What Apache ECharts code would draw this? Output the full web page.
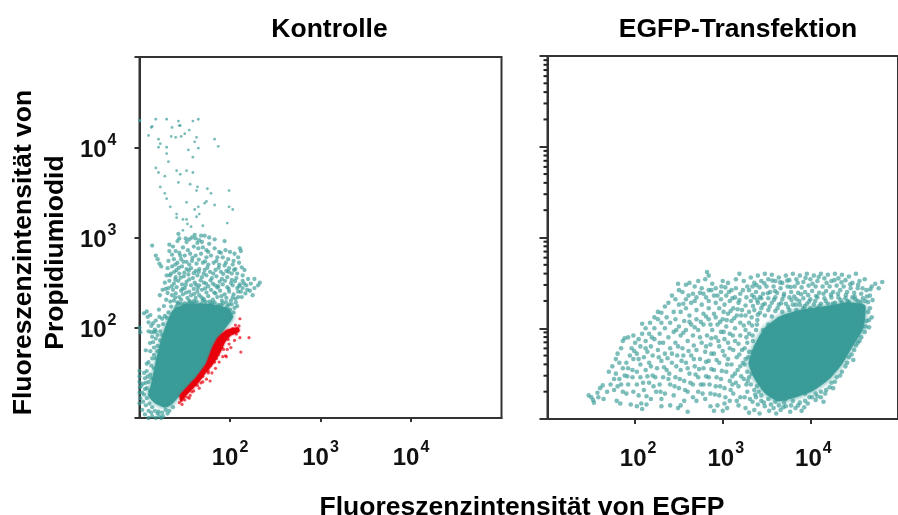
<!DOCTYPE html>
<html><head><meta charset="utf-8">
<style>html,body{margin:0;padding:0;background:#fff}#c{width:898px;height:515px}</style>
<script src="https://cdn.jsdelivr.net/npm/echarts@6/dist/echarts.min.js"></script>
</head><body><div id="c"></div>
<script>
const panelTitles = ['Kontrolle', 'EGFP-Transfektion'];
const xAxisTitle = 'Fluoreszenzintensität von EGFP';
const yAxisTitle = 'Fluoreszenzintensität von\nPropidiumiodid';
const xTickExponents = [2, 3, 4];
const yTickExponents = [2, 3, 4];
const minorTickValues = [20,30,40,50,60,70,80,90,200,300,400,500,600,700,800,900,2000,3000,4000,5000,6000,7000,8000,9000,20000,30000,40000,50000,60000,70000,80000,90000];

const controlCore = [[1.28,1.12],[1.17,1.17],[1.10,1.25],[1.13,1.36],[1.18,1.60],[1.23,1.82],[1.30,2.04],[1.37,2.19],[1.52,2.26],[1.77,2.26],[1.98,2.21],[2.03,2.12],[1.94,1.99],[1.87,1.89],[1.81,1.76],[1.74,1.60],[1.63,1.45],[1.52,1.34],[1.44,1.25],[1.35,1.15]];
const controlRedBand = [[1.45,1.25],[1.63,1.45],[1.74,1.60],[1.81,1.78],[1.87,1.89],[1.96,1.97],[2.09,2.0],[2.10,1.96],[2.01,1.92],[1.94,1.84],[1.89,1.73],[1.81,1.60],[1.72,1.49],[1.63,1.37],[1.52,1.26],[1.46,1.18]];
const controlRedPoints = [[2.21,1.89],[2.12,1.73],[1.95,1.69],[2.11,1.89],[1.78,1.41],[1.76,1.52],[2.11,2.10],[1.96,1.68],[2.01,1.78],[2.05,1.86],[1.99,1.82],[1.97,1.76],[1.92,1.68],[1.88,1.62],[1.84,1.55],[1.80,1.50],[1.74,1.43],[1.70,1.40],[1.66,1.33],[1.60,1.30],[1.56,1.25],[1.50,1.20],[1.47,1.15],[1.44,1.17],[1.49,1.24],[1.55,1.22],[2.03,1.94],[2.07,1.93],[2.10,2.02],[2.06,2.03],[2.03,1.99],[1.93,1.87],[1.91,1.78],[1.85,1.66],[1.78,1.58],[1.70,1.46],[1.83,1.62],[1.87,1.70],[1.93,1.76],[1.98,1.87],[1.76,1.50],[1.68,1.39],[1.58,1.29],[2.00,1.97],[2.08,1.97],[1.90,1.83],[1.84,1.72],[1.64,1.36],[1.53,1.23]];
const controlSparse = [[1.0,4.30],[1.005,4.29],[1.18,4.31],[1.30,4.31],[1.43,4.29],[1.44,4.24],[1.45,4.24],[1.59,4.29],[1.65,4.31],[1.13,4.22],[1.14,4.23],[1.36,4.22],[1.55,4.19],[1.46,4.12],[1.50,4.15],[1.35,4.12],[1.40,4.11],[1.10,4.13],[1.21,4.09],[1.23,4.04],[1.21,4.0],[1.30,4.0],[1.63,4.11],[1.61,4.06],[1.83,4.09],[1.87,4.01],[1.65,3.99],[1.54,3.97],[1.30,3.93],[1.59,3.89],[1.32,3.84],[1.18,3.77],[1.21,3.72],[1.28,3.68],[1.41,3.74],[1.45,3.70],[1.52,3.74],[1.59,3.72],[1.43,3.61],[1.23,3.56],[1.56,3.59],[1.64,3.56],[1.63,3.52],[1.75,3.54],[1.79,3.49],[1.99,3.52],[1.28,3.49],[1.30,3.43],[1.52,3.39],[1.74,3.40],[1.72,3.38],[1.83,3.36],[1.99,3.34],[2.03,3.31],[1.34,3.34],[1.65,3.34],[1.61,3.31],[1.66,3.26],[1.63,3.23],[1.41,3.26],[1.41,3.22],[1.48,3.20],[1.52,3.20],[1.53,3.15],[1.57,3.12],[1.97,3.16],[1.70,3.13],[1.48,3.08],[1.43,3.04],[1.61,3.03],[1.68,3.02],[1.77,3.00],[1.51,2.99],
[1.14,2.91],[1.18,2.80],[1.20,2.76],[1.22,2.71],[1.24,2.68],[1.33,2.92],[1.37,2.90],[1.42,2.96],[1.44,2.99],[1.40,2.85],[1.33,2.85],[1.36,2.81],[1.44,2.83],[1.48,2.89],[1.52,2.95],[1.55,2.98],[1.58,3.00],[1.62,2.99],[1.66,2.97],[1.69,2.95],[1.72,3.02],[1.60,2.90],[1.65,2.88],[1.70,2.89],[1.77,2.93],[1.83,2.98],[1.94,2.96],[2.11,2.88],[2.12,2.85],[1.83,2.88],[1.88,2.84],[1.95,2.86],[2.00,2.84],[2.05,2.82],[2.09,2.78],[1.50,2.80],[1.56,2.82],[1.62,2.80],[1.68,2.82],[1.74,2.78],[1.79,2.80],[1.86,2.78],[1.92,2.78],[1.98,2.76],[2.04,2.74],[2.10,2.72],[2.13,2.67],[1.32,2.74],[1.38,2.76],[1.42,2.72],[1.46,2.76],[1.52,2.73],[1.58,2.74],[1.63,2.71],[1.70,2.72],[1.76,2.70],[1.82,2.72],[1.88,2.70],[1.94,2.69],[1.99,2.66],[2.06,2.65],[2.16,2.64],[1.31,2.66],[1.36,2.68],[1.41,2.64],[1.47,2.68],[1.52,2.65],[1.57,2.66],[1.62,2.63],[1.66,2.65],[1.72,2.64],[1.78,2.62],[1.84,2.64],[1.90,2.62],[1.96,2.63],[2.02,2.60],[2.08,2.60],[2.14,2.58],
[1.30,2.58],[1.35,2.60],[1.40,2.56],[1.44,2.60],[1.49,2.57],[1.54,2.59],[1.59,2.55],[1.64,2.58],[1.69,2.56],[1.74,2.58],[1.80,2.55],[1.85,2.57],[1.91,2.54],[1.97,2.56],[2.02,2.53],[2.07,2.55],[2.14,2.52],[2.20,2.54],[2.27,2.54],[2.33,2.50],[2.23,2.49],[2.18,2.47],[2.25,2.36],[2.27,2.44],[2.22,2.41],[2.14,2.44],[2.17,2.38],[1.28,2.50],[1.33,2.52],[1.38,2.49],[1.43,2.52],[1.47,2.48],[1.52,2.51],[1.57,2.47],[1.61,2.50],[1.66,2.47],[1.71,2.50],[1.76,2.46],[1.81,2.49],[1.87,2.46],[1.92,2.48],[1.97,2.45],[2.03,2.47],[2.08,2.44],[2.11,2.48],[1.32,2.44],[1.37,2.42],[1.41,2.45],[1.46,2.41],[1.50,2.44],[1.55,2.40],[1.60,2.43],[1.64,2.40],[1.69,2.42],[1.74,2.39],[1.79,2.42],[1.84,2.38],[1.89,2.41],[1.94,2.37],[1.99,2.40],[2.04,2.37],[2.09,2.40],[2.13,2.34],[1.36,2.36],[1.40,2.38],[1.44,2.34],[1.48,2.37],[1.53,2.33],[1.57,2.36],[1.62,2.33],[1.66,2.36],[1.71,2.32],[1.76,2.35],[1.81,2.31],[1.86,2.34],[1.91,2.30],[1.96,2.33],[2.01,2.30],[2.06,2.32],[1.38,2.30],[1.42,2.28],[1.46,2.31],[1.50,2.27],[1.55,2.30],[1.59,2.27],[1.63,2.29],[1.68,2.26],[1.73,2.29],[1.78,2.25],[1.83,2.28],[1.87,2.25],[1.92,2.27],[1.97,2.24],[2.02,2.26],[2.05,2.22],[1.41,2.24],[1.45,2.22],[1.49,2.24],[1.54,2.21],[1.58,2.24],[1.62,2.22],[1.67,2.23],[1.72,2.22],[1.76,2.24],[1.82,2.21],[1.89,2.22],[1.94,2.21],[2.00,2.20],[2.04,2.17],
[1.05,2.16],[1.08,2.18],[1.12,2.14],[1.10,2.06],[1.13,2.02],[1.00,2.00],[1.01,1.95],[1.10,1.96],[1.15,2.05],[1.18,2.08],[1.22,2.12],[1.28,2.13],[1.32,2.17],[1.17,1.98],[1.20,1.92],[1.23,1.96],[1.26,2.04],[1.18,1.88],[1.14,1.90],[1.20,1.80],[1.16,1.78],[1.23,1.86],[1.12,1.74],[1.16,1.70],[1.18,1.66],[1.10,1.62],[1.13,1.58],[1.16,1.55],[1.08,1.52],[1.12,1.48],[1.06,1.44],[1.10,1.40],[1.04,1.38],[1.08,1.33],[1.02,1.36],[1.0,1.52],[1.0,1.46],[1.0,1.40],[1.005,1.34],[1.0,1.28],[1.01,1.22],[1.0,1.16],[1.05,1.26],[1.08,1.22],[1.04,1.18],[1.07,1.14],[1.11,1.16],[1.14,1.12],[1.10,1.08],[1.17,1.08],[1.21,1.07],[1.25,1.06],[1.29,1.09],[1.33,1.08],[1.14,1.02],[1.18,1.0],[1.22,1.02],[1.24,1.0],[1.06,1.04],[1.10,1.0],[1.37,1.12],[1.31,1.05],
[1.34,2.29],[1.395,2.335],[1.43,2.27],[1.475,2.43],[1.515,2.39],[1.56,2.285],[1.605,2.375],[1.645,2.44],[1.685,2.335],[1.725,2.435],[1.775,2.29],[1.825,2.39],[1.86,2.445],[1.905,2.35],[1.955,2.285],[1.985,2.43],[2.03,2.335],[2.065,2.28],[1.31,2.385],[1.355,2.46],[1.395,2.53],[1.455,2.555],[1.51,2.475],[1.55,2.535],[1.625,2.475],[1.675,2.525],[1.735,2.49],[1.785,2.525],[1.835,2.47],[1.885,2.51],[1.945,2.52],[2.01,2.495],[2.055,2.515],[2.10,2.46],[2.155,2.49],[1.29,2.43],[1.335,2.58],[1.385,2.62],[1.435,2.665],[1.495,2.61],[1.545,2.635],[1.60,2.605],[1.655,2.62],[1.71,2.60],[1.75,2.665],[1.815,2.60],[1.875,2.665],[1.925,2.595],[1.985,2.62],[2.045,2.64],[1.295,2.31],[1.255,2.42],[1.225,2.36],[1.27,2.24],[1.215,2.20],[1.35,2.235],[1.40,2.21],[1.46,2.265],[1.53,2.26],[1.60,2.295],[1.70,2.30],[1.80,2.27],[1.90,2.25],[1.99,2.26],[2.08,2.24],[2.09,2.34],[2.12,2.40],[2.19,2.42],[2.31,2.47],[1.395,2.70],[1.485,2.73],[1.55,2.70],[1.655,2.755],[1.725,2.735],[1.85,2.74],[1.955,2.72],[2.03,2.70],[1.45,2.80],[1.585,2.775],[1.76,2.84],[1.90,2.83],[1.535,2.86],[1.64,2.94],[1.74,2.86],
[1.07,1.75],[1.115,1.83],[1.08,1.60],[1.14,1.66],[1.05,1.50],[1.15,1.84],[1.09,1.46],[1.13,1.44],[1.06,1.32],[1.115,1.30],[1.03,1.28],[1.07,1.39],[1.16,1.95],[1.21,2.02],[1.25,2.10],[1.195,1.74],[1.13,1.95],[1.18,1.96],[1.09,2.12],[1.30,2.11],[1.25,1.92],[1.03,1.09],[1.13,1.06],[1.20,1.05],[1.26,1.02]];

const transfectCore = [[3.30,1.61],[3.36,1.80],[3.48,2.00],[3.66,2.13],[3.90,2.20],[4.20,2.24],[4.42,2.28],[4.62,2.25],[4.60,2.00],[4.47,1.79],[4.36,1.61],[4.21,1.44],[4.02,1.31],[3.82,1.24],[3.63,1.20],[3.49,1.28],[3.37,1.44]];
const transfectSparse = [[1.47,1.26],[1.50,1.24],[1.52,1.21],[1.53,1.18],[1.57,1.29],[1.60,1.34],[1.63,1.37],[1.58,1.24],[1.64,1.22],[1.79,1.20],[1.83,1.17],[1.95,1.16],[2.02,1.14],[2.07,1.17],[2.13,1.25],[2.18,1.22],[2.08,1.11],[2.30,1.14],[2.40,1.15],[2.49,1.12],[2.52,1.15],[2.60,1.08],[2.86,1.14],[2.90,1.09],[2.94,1.15],[3.00,1.09],[3.02,1.17],[3.05,1.12],[3.18,1.15],[3.26,1.12],[3.30,1.07],[3.36,1.10],[3.42,1.06],[3.48,1.14],[3.53,1.09],[3.58,1.12],[3.61,1.06],[3.66,1.10],[3.72,1.14],[3.77,1.08],[3.83,1.12],[3.90,1.09],[3.93,1.13],[3.97,1.17],[4.15,1.19],[4.12,1.24],[4.06,1.21],[3.99,1.24],[3.88,1.18],[3.80,1.20],[3.72,1.22],[3.60,1.19],[3.52,1.22],[3.44,1.20],[3.38,1.24],[3.34,1.19],
[1.68,1.30],[1.72,1.38],[1.76,1.44],[1.70,1.52],[1.74,1.58],[1.78,1.66],[1.80,1.72],[1.84,1.78],[1.86,1.86],[1.88,1.89],[1.92,1.90],[1.98,1.92],[1.82,1.62],[1.86,1.56],[1.90,1.62],[1.94,1.70],[1.96,1.78],[2.00,1.84],[2.04,1.88],[2.08,1.94],[2.12,2.00],[2.08,2.05],[2.17,2.06],[2.22,2.12],[2.26,2.10],[2.30,2.17],[2.34,2.24],[2.26,2.18],[2.38,2.28],[2.42,2.36],[2.46,2.32],[2.50,2.42],[2.49,2.49],[2.58,2.48],[2.54,2.40],[2.62,2.50],[2.68,2.46],[2.72,2.52],[2.82,2.62],[2.84,2.58],[2.80,2.54],[2.88,2.49],[2.76,2.44],[2.66,2.38],[2.58,2.32],[2.50,2.26],[2.44,2.18],[2.36,2.12],[2.30,2.06],[2.22,2.00],[2.16,1.94],[2.12,1.86],[2.06,1.80],[2.02,1.72],[1.98,1.66],[1.92,1.56],[1.88,1.48],[1.82,1.44],[1.80,1.36],[1.86,1.30],[1.92,1.38],[1.97,1.46],[2.02,1.52],[2.06,1.60],[2.10,1.68],[2.14,1.74],[2.18,1.80],[2.22,1.88],[2.28,1.94],[2.34,2.00],[2.40,2.06],[2.46,2.10],[2.52,2.18],[2.58,2.22],[2.64,2.28],[2.70,2.34],[2.78,2.38],[2.84,2.42],[2.92,2.44],[2.98,2.40],[2.90,2.36],[2.84,2.30],[2.76,2.26],[2.70,2.20],[2.62,2.14],[2.56,2.08],[2.50,2.02],[2.44,1.96],[2.38,1.90],[2.32,1.84],[2.26,1.76],[2.20,1.70],[2.16,1.62],[2.12,1.54],[2.06,1.46],[2.02,1.38],[1.98,1.30],[2.04,1.26],[2.10,1.32],[2.16,1.40],[2.20,1.48],[2.25,1.56],[2.30,1.64],[2.34,1.72],[2.40,1.78],[2.46,1.84],[2.52,1.92],[2.58,1.98],[2.64,2.04],[2.70,2.10],[2.78,2.16],[2.84,2.22],[2.92,2.28],[2.98,2.32],[3.04,2.36],[3.10,2.42],[3.06,2.50],[3.00,2.52],[3.15,2.54],[3.19,2.60],[3.24,2.52],[3.28,2.46],
[2.24,1.30],[2.28,1.38],[2.32,1.46],[2.36,1.54],[2.42,1.62],[2.48,1.70],[2.54,1.78],[2.60,1.86],[2.66,1.92],[2.72,1.98],[2.78,2.04],[2.84,2.10],[2.90,2.16],[2.96,2.22],[3.02,2.26],[3.08,2.30],[3.14,2.34],[3.20,2.38],[3.18,2.28],[3.12,2.22],[3.06,2.16],[3.00,2.10],[2.94,2.04],[2.88,1.98],[2.82,1.92],[2.76,1.84],[2.70,1.76],[2.64,1.70],[2.58,1.62],[2.52,1.54],[2.46,1.46],[2.40,1.38],[2.34,1.28],[2.30,1.22],[2.44,1.26],[2.50,1.34],[2.56,1.42],[2.62,1.50],[2.68,1.58],[2.74,1.66],[2.80,1.74],[2.86,1.82],[2.92,1.90],[2.98,1.96],[3.04,2.02],[3.10,2.08],[3.16,2.14],[3.22,2.20],[3.26,2.14],[3.20,2.06],[3.14,2.00],[3.08,1.94],[3.02,1.88],[2.96,1.80],[2.90,1.72],[2.84,1.64],[2.78,1.56],[2.72,1.46],[2.66,1.38],[2.60,1.30],[2.56,1.20],[2.66,1.24],[2.72,1.30],[2.78,1.38],[2.84,1.46],[2.90,1.54],[2.96,1.62],[3.02,1.70],[3.08,1.78],[3.14,1.86],[3.20,1.92],[3.26,1.98],[3.30,2.06],[3.34,1.92],[3.28,1.84],[3.22,1.76],[3.16,1.68],[3.10,1.60],[3.04,1.52],[2.98,1.44],[2.92,1.36],[2.86,1.28],[2.80,1.22],[2.96,1.26],[3.02,1.34],[3.08,1.42],[3.14,1.50],[3.20,1.58],[3.26,1.66],[3.30,1.74],[3.24,1.44],[3.18,1.36],[3.12,1.28],[3.08,1.20],[3.20,1.24],[3.28,1.30],[3.32,1.38],[3.36,1.32],[3.28,1.52],[3.44,1.90],[3.38,1.98],[3.46,1.98],[3.52,2.04],
[3.32,2.56],[3.36,2.50],[3.40,2.58],[3.44,2.52],[3.48,2.60],[3.52,2.54],[3.56,2.59],[3.60,2.52],[3.64,2.56],[3.68,2.50],[3.72,2.58],[3.76,2.53],[3.80,2.60],[3.84,2.54],[3.88,2.58],[3.92,2.51],[3.96,2.60],[4.00,2.54],[4.04,2.58],[4.08,2.52],[4.12,2.60],[4.16,2.55],[4.20,2.59],[4.24,2.52],[4.28,2.60],[4.32,2.55],[4.36,2.59],[4.40,2.53],[4.44,2.57],[4.52,2.60],[4.48,2.50],[4.56,2.52],[4.62,2.54],[4.70,2.46],[4.74,2.49],[4.82,2.51],[4.78,2.44],[3.30,2.42],[3.34,2.46],[3.38,2.40],[3.42,2.45],[3.46,2.38],[3.50,2.46],[3.54,2.40],[3.58,2.46],[3.62,2.39],[3.66,2.44],[3.70,2.38],[3.74,2.46],[3.78,2.40],[3.82,2.46],[3.86,2.39],[3.90,2.45],[3.94,2.40],[3.98,2.47],[4.02,2.41],[4.06,2.46],[4.10,2.39],[4.14,2.46],[4.18,2.41],[4.22,2.46],[4.26,2.40],[4.30,2.47],[4.34,2.42],[4.38,2.46],[4.42,2.40],[4.46,2.44],[4.50,2.39],[4.54,2.44],[4.58,2.38],[4.64,2.42],[4.68,2.36],[4.71,2.31],[4.66,2.29],[4.60,2.33],[4.54,2.30],[3.32,2.30],[3.36,2.34],[3.40,2.28],[3.44,2.33],[3.48,2.27],[3.52,2.33],[3.56,2.28],[3.60,2.34],[3.64,2.26],[3.68,2.32],[3.72,2.27],[3.76,2.34],[3.80,2.26],[3.84,2.32],[3.88,2.26],[3.92,2.33],[3.96,2.27],[4.00,2.32],[4.04,2.26],[4.08,2.34],[4.12,2.27],[4.16,2.33],[4.20,2.27],[4.24,2.34],[4.28,2.28],[4.32,2.34],[4.36,2.28],[4.40,2.33],[4.44,2.29],[4.48,2.34],[4.36,2.20],[3.36,2.20],[3.40,2.15],[3.44,2.22],[3.48,2.14],[3.52,2.20],[3.56,2.13],[3.60,2.19],[3.64,2.10],[3.68,2.18],[3.72,2.09],[3.76,2.20],[3.80,2.12],[3.84,2.20],[3.88,2.15],[3.92,2.22],[3.96,2.16],[4.00,2.22],[4.04,2.16],[4.08,2.22],[4.12,2.17],[4.16,2.22],[4.20,2.18],[4.24,2.23],[4.28,2.18],[4.66,2.18],[4.70,2.12],[4.64,2.08],[4.67,2.01],[4.62,1.96],[4.58,1.90],[4.54,1.84],[4.50,1.76],[4.49,1.65],[4.44,1.68],[4.40,1.58],[4.36,1.52],[4.30,1.46],[4.24,1.40],[4.26,1.34],[4.18,1.32],[4.12,1.30],[4.06,1.28],[3.34,1.74],[3.38,1.66],[3.34,1.58],[3.30,1.46],[3.42,1.40],[3.44,1.26],[3.56,1.26],[3.70,1.18],[3.94,1.28],
[3.335,2.365],[3.385,2.475],[3.425,2.345],[3.475,2.495],[3.515,2.385],[3.565,2.525],[3.595,2.41],[3.655,2.505],[3.695,2.355],[3.735,2.525],[3.775,2.455],[3.815,2.35],[3.855,2.50],[3.895,2.375],[3.945,2.555],[3.975,2.365],[4.025,2.49],[4.065,2.355],[4.095,2.565],[4.15,2.38],[4.185,2.50],[4.235,2.37],[4.275,2.53],[4.315,2.38],[4.355,2.505],[4.405,2.365],[4.455,2.485],[4.505,2.35],[4.545,2.48],[4.595,2.44],[4.645,2.35],[4.685,2.43],[3.345,2.245],[3.395,2.31],[3.455,2.255],[3.535,2.24],[3.585,2.315],[3.625,2.22],[3.665,2.275],[3.745,2.235],[3.785,2.31],[3.835,2.26],[3.875,2.30],[3.935,2.245],[3.985,2.295],[4.055,2.30],[4.105,2.245],[4.175,2.30],[4.255,2.27],[4.345,2.31],[4.425,2.30],[4.515,2.32],[4.575,2.29],[4.625,2.30],[3.33,2.12],[3.30,2.18],[3.395,2.09],[3.425,2.17],[3.335,2.03],[3.39,2.04],[3.30,1.94],[3.345,1.86],[3.29,1.68],[3.25,1.60],[3.285,1.42],[3.33,1.50],[3.39,1.36],[3.41,1.30],[3.46,1.34],[3.37,1.27],[3.31,1.22],[3.40,1.16],[3.47,1.18],[3.55,1.16],[3.64,1.15],[3.69,1.13],[3.78,1.15],[3.86,1.15],[3.94,1.20],[4.02,1.24],[4.08,1.25],[4.17,1.28],[4.22,1.35],[4.28,1.41],[4.34,1.48],[4.42,1.62],[4.47,1.71],[4.52,1.81],[4.56,1.86],[4.63,2.02],[4.67,2.09],[4.68,2.22],
[3.27,2.34],[3.23,2.42],[3.19,2.31],[3.15,2.44],[3.11,2.33],[3.07,2.40],[3.03,2.45],[2.985,2.46],[2.94,2.36],[2.87,2.42],[2.81,2.34],[2.74,2.39],[2.68,2.30],[2.61,2.36],[2.55,2.27],[3.26,2.25],[3.21,2.14],[3.17,2.21],[3.13,2.11],[3.09,2.19],[3.045,2.09],[3.01,2.18],[2.97,2.07],[2.92,2.12],[2.86,2.04],[2.81,2.13],[2.75,2.07],[2.68,2.01],[2.62,2.07],[2.55,1.95],[2.47,1.98],[3.27,1.90],[3.24,2.03],[3.18,1.83],[3.115,1.92],[3.06,1.84],[3.01,1.96],[2.95,1.86],[2.87,1.89],[2.81,1.80],[2.74,1.90],[2.67,1.81],[2.61,1.75],[2.55,1.70],[2.49,1.80],[2.42,1.72],[3.25,1.78],[3.19,1.71],[3.12,1.76],[3.06,1.66],[3.00,1.75],[2.93,1.65],[2.87,1.72],[2.81,1.63],[2.73,1.55],[2.67,1.66],[2.60,1.56],[2.53,1.64],[2.47,1.58],[2.39,1.50],[3.23,1.62],[3.17,1.54],[3.11,1.47],[3.05,1.60],[2.99,1.53],[2.93,1.46],[2.87,1.55],[2.81,1.47],[2.75,1.38],[2.69,1.49],[2.63,1.40],[2.57,1.32],[2.51,1.44],[2.45,1.36],[3.27,1.38],[3.21,1.47],[3.15,1.40],[3.09,1.32],[3.03,1.24],[2.97,1.36],[2.91,1.27],[2.85,1.38],[2.77,1.28],[2.70,1.20],[3.25,1.24],[3.16,1.20],[3.11,1.38],[2.23,1.46],[2.18,1.58],[2.14,1.47],[2.09,1.40],[2.04,1.66],[1.99,1.75],[2.27,1.68],[2.33,1.57],[2.37,1.67],[2.28,1.84],[2.19,1.90],[2.12,1.78],[1.97,1.54],[1.91,1.47],[1.84,1.38],[1.78,1.50],[2.38,1.44],[2.29,1.30],[2.21,1.36],[2.13,1.16],[1.90,1.28],[1.76,1.32]];

const teal = '#3a9c98';
const red = '#e8000d';
const toFluorescence = pts => pts.map(p => [Math.pow(10, p[0]), Math.pow(10, p[1])]);
const expOf = v => Math.round(Math.log10(v));

function polygonSeries(axisIndex, outline, color, z, blur) {
  return {
    type: 'custom', xAxisIndex: axisIndex, yAxisIndex: axisIndex, z: z, silent: true,
    encode: {x: 0, y: 1}, data: toFluorescence(outline),
    renderItem: (params, api) => {
      if (params.dataIndex !== 0) return null;
      const pixels = toFluorescence(outline).map(p => api.coord(p));
      return {type: 'polygon', shape: {points: pixels, smooth: 0.15},
        style: {fill: color, stroke: color, lineWidth: 1, shadowBlur: blur, shadowColor: color}};
    }
  };
}
function scatterSeries(axisIndex, pts, color, size, opacity, z) {
  return {type: 'scatter', xAxisIndex: axisIndex, yAxisIndex: axisIndex, z: z, silent: true, symbolSize: size,
    data: toFluorescence(pts), itemStyle: {color: color, opacity: opacity}, clip: false};
}
const base = {color: '#111', fontFamily: 'Liberation Sans', fontWeight: 'bold'};
const rich = {
  n: {...base, fontSize: 24, lineHeight: 30, verticalAlign: 'bottom'},
  s: {...base, fontSize: 16, lineHeight: 30, verticalAlign: 'top', padding: [0, 0, 0, 1]}
};
const power = e => `{n|10}{s|${e}}`;
const lineStyle = {color: '#333', width: 2};

function xAxis(gridIndex, padLeft, tickLen) {
  return {type: 'log', logBase: 10, gridIndex: gridIndex, min: 10, max: 100000,
    axisLine: {show: true, onZero: false, lineStyle}, axisTick: {show: true, length: tickLen, lineStyle},
    minorTick: {show: false}, splitLine: {show: false}, minorSplitLine: {show: false},
    axisLabel: {show: true, margin: 22, padding: [0, 0, 0, padLeft], showMinLabel: false, showMaxLabel: false, rich,
      formatter: v => xTickExponents.includes(expOf(v)) ? power(expOf(v)) : ''}};
}
function yAxis(gridIndex, tickLen, labels) {
  return {type: 'log', logBase: 10, gridIndex: gridIndex, min: 10, max: 100000,
    axisLine: {show: true, onZero: false, lineStyle}, axisTick: {show: true, length: tickLen, lineStyle},
    minorTick: {show: false}, splitLine: {show: false}, minorSplitLine: {show: false},
    axisLabel: {show: labels, margin: 23, rich,
      formatter: v => yTickExponents.includes(expOf(v)) ? power(expOf(v)) : ''}};
}
const minorTicks = {
  type: 'custom', xAxisIndex: 1, yAxisIndex: 1, z: 5, silent: true,
  encode: {y: 0}, data: minorTickValues.map(v => [v]),
  renderItem: (params, api) => {
    const p = api.coord([10, api.value(0)]);
    return {type: 'line', shape: {x1: p[0] - 4, y1: p[1], x2: p[0], y2: p[1]}, style: {stroke: '#222', lineWidth: 2}};
  }
};

const chart = echarts.init(document.getElementById('c'), null, {renderer: 'canvas'});
const titleStyle = {...base, fontSize: 26.5, color: '#000'};
chart.setOption({
  animation: false, backgroundColor: '#fff',
  title: [
    {text: panelTitles[0], left: 324.5, top: 11, textAlign: 'center', textStyle: titleStyle},
    {text: panelTitles[1], left: 733, top: 11, textAlign: 'center', textStyle: titleStyle},
    {text: xAxisTitle, left: 517, top: 489, textAlign: 'center', textStyle: titleStyle}
  ],
  graphic: [{type: 'text', x: 40, y: 252.5, rotation: Math.PI / 2, silent: true,
    style: {text: yAxisTitle, font: 'bold 26.5px "Liberation Sans"', fill: '#000', textAlign: 'center', textVerticalAlign: 'middle', lineHeight: 32}}],
  grid: [
    {left: 139.5, top: 57, width: 362, height: 361, show: true, borderColor: '#333', borderWidth: 2, backgroundColor: 'transparent'},
    {left: 547.5, top: 56, width: 361.5, height: 363, show: true, borderColor: '#333', borderWidth: 2, backgroundColor: 'transparent'}
  ],
  xAxis: [xAxis(0, 0, 4), xAxis(1, 6, 5)],
  yAxis: [yAxis(0, 5, true), yAxis(1, 8, false)],
  series: [
    scatterSeries(0, controlSparse, teal, v => v[1] > 1100 ? 2.8 : 4.3, 0.68, 2),
    polygonSeries(0, controlCore, teal, 3, 4),
    polygonSeries(0, controlRedBand, red, 4, 2),
    scatterSeries(0, controlRedPoints, red, 3.2, 0.7, 4),
    scatterSeries(1, transfectSparse, teal, 4.6, 0.66, 2),
    polygonSeries(1, transfectCore, teal, 3, 5),
    minorTicks
  ]
});
</script></body></html>
